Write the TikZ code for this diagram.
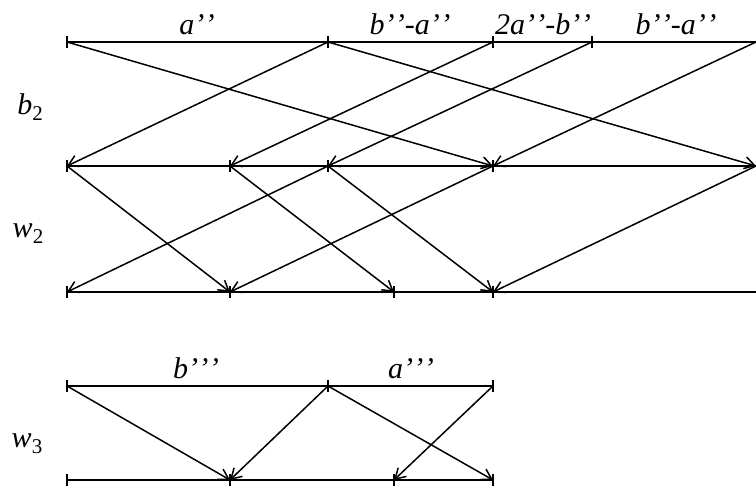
\documentclass[tikz,border=0pt]{standalone}
\usepackage{fontspec}
\setmainfont{Liberation Serif}
\usetikzlibrary{arrows.meta}
\newcommand{\pp}{’\kern0.5pt’}
\newcommand{\ppp}{’\kern0.5pt’\kern0.5pt’}
\begin{document}
\begin{tikzpicture}[x=1pt,y=-1pt,
  seg/.style={line width=1.6pt},
  arr/.style={line width=1.5pt,-{Straight Barb[length=10pt,width=12pt,line width=1.5pt]}},
  lbl/.style={anchor=base,inner sep=0pt,font=\fontsize{30}{32}\selectfont\itshape},
  tk/.style={line width=1.5pt}]
\useasboundingbox (0,0) rectangle (756,489);
% coordinates: top row (y=42)
\coordinate (t1) at (67,42);
\coordinate (t2) at (328,42);
\coordinate (t3) at (493,42);
\coordinate (t4) at (592,42);
\coordinate (t5) at (756,42);
% middle row (y=166)
\coordinate (m1) at (67,166);
\coordinate (m2) at (230,166);
\coordinate (m3) at (328,166);
\coordinate (m4) at (493,166);
\coordinate (m5) at (756,166);
% bottom row (y=292)
\coordinate (b1) at (67,292);
\coordinate (b2) at (230,292);
\coordinate (b3) at (394,292);
\coordinate (b4) at (493,292);
\coordinate (b5) at (756,292);
% w3 rows
\coordinate (u1) at (67,386);
\coordinate (u2) at (328,386);
\coordinate (u3) at (493,386);
\coordinate (v1) at (67,480);
\coordinate (v2) at (230,480);
\coordinate (v3) at (394,480);
\coordinate (v4) at (493,480);
% horizontal lines
\draw[seg] (t1) -- (t5);
\draw[seg] (m1) -- (m5);
\draw[seg] (b1) -- (b5);
\draw[seg] (u1) -- (u3);
\draw[seg] (v1) -- (v4);
% ticks
\foreach \p in {t1,t2,t3,t4,m1,m2,m3,m4,b1,b2,b3,b4,u1,u2,u3,v1,v2,v3,v4}
  \draw[tk] ([yshift=-6pt]\p) -- ([yshift=6pt]\p);
% arrows top -> middle
\draw[arr] (t1) -- (m4);
\draw[arr] (t2) -- (m1);
\draw[arr] (t2) -- (m5);
\draw[arr] (t3) -- (m2);
\draw[arr] (t4) -- (m3);
\draw[arr] (t5) -- (m4);
% arrows middle -> bottom
\draw[arr] (m1) -- (b2);
\draw[arr] (m2) -- (b3);
\draw[arr] (m3) -- (b4);
\draw[arr] (m3) -- (b1);
\draw[arr] (m4) -- (b2);
\draw[arr] (m5) -- (b4);
% w3 arrows
\draw[arr] (u1) -- (v2);
\draw[arr] (u2) -- (v2);
\draw[arr] (u2) -- (v4);
\draw[arr] (u3) -- (v3);
% labels
\node[lbl] (la) at (197,35) {a\pp};
\node[lbl] (lba) at (410,35) {b\pp-a\pp};
\node[lbl] (l2ab) at (543,35) {2a\pp-b\pp};
\node[lbl] (lba2) at (676,35) {b\pp-a\pp};
\node[lbl] (lb3) at (196,379) {b\ppp};
\node[lbl] (la3) at (411,379) {a\ppp};
\node[lbl] (nb2) at (30,115) {b\raisebox{-6pt}{\fontsize{21}{22}\selectfont\upshape 2}};
\node[lbl] (nw2) at (28,238) {w\raisebox{-6pt}{\fontsize{21}{22}\selectfont\upshape 2}};
\node[lbl] (nw3) at (27,447) {w\raisebox{-6pt}{\fontsize{21}{22}\selectfont\upshape 3}};
\end{tikzpicture}
\end{document}
